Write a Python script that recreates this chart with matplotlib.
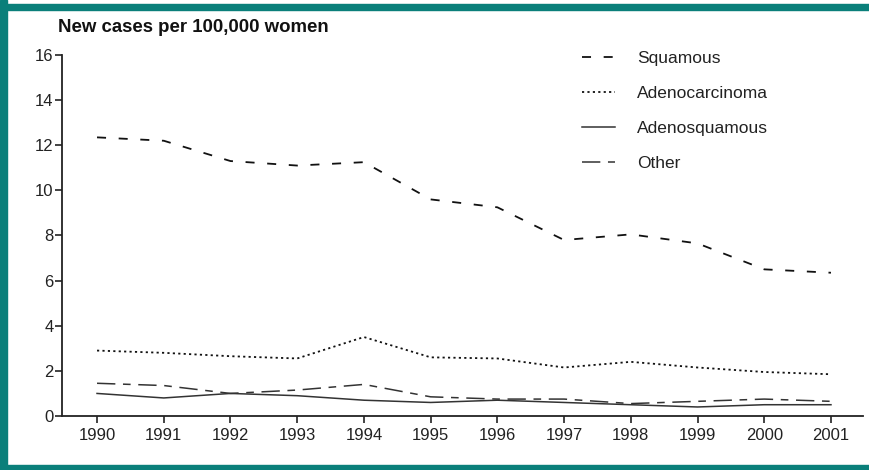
import matplotlib.pyplot as plt
from matplotlib.patches import Rectangle

years = [1990, 1991, 1992, 1993, 1994, 1995, 1996, 1997, 1998, 1999, 2000, 2001]
squamous = [12.35, 12.2, 11.3, 11.1, 11.25, 9.6, 9.25, 7.8, 8.05, 7.65, 6.5, 6.35]
adenocarcinoma = [2.9, 2.8, 2.65, 2.55, 3.5, 2.6, 2.55, 2.15, 2.4, 2.15, 1.95, 1.85]
adenosquamous = [1.0, 0.8, 1.0, 0.9, 0.7, 0.6, 0.7, 0.6, 0.5, 0.4, 0.5, 0.5]
other = [1.45, 1.35, 1.0, 1.15, 1.4, 0.85, 0.75, 0.75, 0.55, 0.65, 0.75, 0.65]

plt.rcParams['font.family'] = ['Liberation Sans', 'DejaVu Sans']

W, H = 869, 470
fig = plt.figure(figsize=(W / 100, H / 100), dpi=100)

# teal frame (left, top, bottom)
teal = '#0a7f7a'
fig.patches.append(Rectangle((0, 0), 7 / W, 1, transform=fig.transFigure, color=teal, zorder=0))
fig.patches.append(Rectangle((0, 1 - 10 / H), 1, 6 / H, transform=fig.transFigure, color=teal, zorder=0))
fig.patches.append(Rectangle((0, 0), 1, 5 / H, transform=fig.transFigure, color=teal, zorder=0))

ax = fig.add_axes([62 / W, 54 / H, (863 - 62) / W, (416 - 55) / H])

ax.plot(years, squamous, color='#111111', lw=1.3, dashes=(5, 7), label='Squamous')
ax.plot(years, adenocarcinoma, color='#111111', lw=1.3, dashes=(1.2, 1.8), label='Adenocarcinoma')
ax.plot(years, adenosquamous, color='#333333', lw=1.1, label='Adenosquamous')
ax.plot(years, other, color='#333333', lw=1.1, dashes=(12, 5, 5, 5), label='Other')

ax.set_xlim(1989.475, 2001.48)
ax.set_ylim(0, 16)
ax.set_xticks(years)
ax.set_yticks(range(0, 17, 2))
ax.tick_params(axis='both', direction='out', length=5, width=1.2, labelsize=12, colors='#222222')
ax.tick_params(axis='x', pad=4)
ax.tick_params(axis='y', pad=1)
for s in ['top', 'right']:
    ax.spines[s].set_visible(False)
for s in ['left', 'bottom']:
    ax.spines[s].set_linewidth(1.3)
    ax.spines[s].set_color('#222222')

fig.text(58 / W, 1 - 28 / H, 'New cases per 100,000 women', fontsize=13.4, fontweight='bold',
         va='center', ha='left', color='#111111')

leg = ax.legend(loc='upper left', bbox_to_anchor=((582 - 62) / (863 - 62), 1 + 4 / 361), frameon=False,
                fontsize=12.5, handlelength=1.9, handletextpad=1.25, labelspacing=1.14,
                borderpad=0, borderaxespad=0)
for t in leg.get_texts():
    t.set_color('#222222')

fig.savefig('out.png', dpi=100, facecolor='white')
